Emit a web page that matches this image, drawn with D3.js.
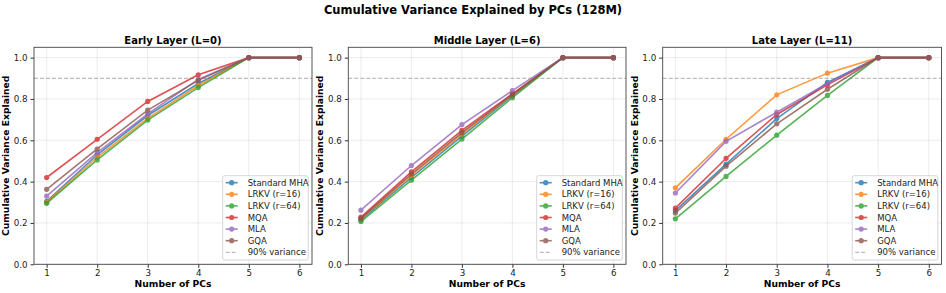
<!DOCTYPE html>
<html>
<head>
<meta charset="utf-8">
<script src="https://cdn.jsdelivr.net/npm/d3@7"></script>
<style>
  body { margin: 0; background: #fff; }
  svg { font-family: "DejaVu Sans", sans-serif; }
</style>
</head>
<body>
<div id="chart"></div>
<script>
const pcs = [1, 2, 3, 4, 5, 6];
const seriesNames = ['Standard MHA', 'LRKV (r=16)', 'LRKV (r=64)', 'MQA', 'MLA', 'GQA'];
const colors = ['#1f77b4', '#ff7f0e', '#2ca02c', '#d62728', '#9467bd', '#8c564b'];
const yTicks = [0.0, 0.2, 0.4, 0.6, 0.8, 1.0];
const panelTitles = ['Early Layer (L=0)', 'Middle Layer (L=6)', 'Late Layer (L=11)'];

// Early layer (L=0)
const early = [
  [0.305, 0.530, 0.720, 0.875, 1.0, 1.0],
  [0.300, 0.518, 0.706, 0.865, 1.0, 1.0],
  [0.295, 0.505, 0.698, 0.855, 1.0, 1.0],
  [0.420, 0.605, 0.788, 0.917, 1.0, 1.0],
  [0.330, 0.540, 0.728, 0.895, 1.0, 1.0],
  [0.363, 0.558, 0.746, 0.890, 1.0, 1.0]
];
// Middle layer (L=6)
const middle = [
  [0.215, 0.420, 0.620, 0.815, 1.0, 1.0],
  [0.220, 0.430, 0.630, 0.820, 1.0, 1.0],
  [0.207, 0.407, 0.606, 0.806, 1.0, 1.0],
  [0.228, 0.447, 0.648, 0.825, 1.0, 1.0],
  [0.262, 0.478, 0.676, 0.840, 1.0, 1.0],
  [0.222, 0.437, 0.637, 0.822, 1.0, 1.0]
];
// Late layer (L=11)
const late = [
  [0.260, 0.485, 0.705, 0.880, 1.0, 1.0],
  [0.370, 0.605, 0.820, 0.925, 1.0, 1.0],
  [0.220, 0.425, 0.625, 0.817, 1.0, 1.0],
  [0.272, 0.513, 0.725, 0.868, 1.0, 1.0],
  [0.345, 0.595, 0.736, 0.875, 1.0, 1.0],
  [0.248, 0.475, 0.680, 0.847, 1.0, 1.0]
];
const threshold = 0.9;

const W = 946, H = 293;
const svg = d3.select('#chart').append('svg')
  .attr('width', W).attr('height', H);

svg.append('text')
  .attr('x', W / 2).attr('y', 14)
  .attr('text-anchor', 'middle')
  .attr('font-size', 11.5).attr('font-weight', 'bold')
  .text('Cumulative Variance Explained by PCs (128M)');

const panels = [
  { left: 34, right: 312, data: early },
  { left: 348.3, right: 626, data: middle },
  { left: 662.7, right: 941.5, data: late }
];
const plotTop = 47.3, plotBottom = 264.3;

panels.forEach((p, pi) => {
  const x = d3.scaleLinear().domain([0.75, 6.25]).range([p.left, p.right]);
  const y = d3.scaleLinear().domain([0, 1.05]).range([plotBottom, plotTop]);
  const g = svg.append('g');

  // grid
  g.selectAll('.gx').data(pcs).enter().append('line')
    .attr('x1', d => x(d)).attr('x2', d => x(d))
    .attr('y1', plotTop).attr('y2', plotBottom)
    .attr('stroke', '#b0b0b0').attr('stroke-opacity', 0.3).attr('stroke-width', 0.8);
  g.selectAll('.gy').data(yTicks).enter().append('line')
    .attr('x1', p.left).attr('x2', p.right)
    .attr('y1', d => y(d)).attr('y2', d => y(d))
    .attr('stroke', '#b0b0b0').attr('stroke-opacity', 0.3).attr('stroke-width', 0.8);

  // axes
  const xa = g.append('g').attr('transform', `translate(0,${plotBottom})`)
    .call(d3.axisBottom(x).tickValues(pcs).tickSize(3.5).tickPadding(2).tickFormat(d3.format('d')));
  const ya = g.append('g').attr('transform', `translate(${p.left},0)`)
    .call(d3.axisLeft(y).tickValues(yTicks).tickSize(3.5).tickPadding(3).tickFormat(d3.format('.1f')));
  [xa, ya].forEach(a => {
    a.select('.domain').remove();
    a.selectAll('line').attr('stroke', '#333');
    a.selectAll('text').attr('font-size', 8.7).attr('fill', '#222').attr('font-family', 'DejaVu Sans');
  });

  // 90% line
  g.append('line')
    .attr('x1', p.left).attr('x2', p.right)
    .attr('y1', y(threshold)).attr('y2', y(threshold))
    .attr('stroke', '#999').attr('stroke-opacity', 0.8)
    .attr('stroke-width', 1).attr('stroke-dasharray', '4,2');

  const line = d3.line().x((d, i) => x(pcs[i])).y(d => y(d));
  p.data.forEach((vals, si) => {
    const s = g.append('g').attr('opacity', 0.8);
    s.append('path').attr('d', line(vals))
      .attr('fill', 'none').attr('stroke', colors[si]).attr('stroke-width', 1.6);
    s.selectAll('circle').data(vals).enter().append('circle')
      .attr('cx', (d, i) => x(pcs[i])).attr('cy', d => y(d)).attr('r', 2.6)
      .attr('fill', colors[si]);
  });

  // frame
  g.append('rect')
    .attr('x', p.left).attr('y', plotTop)
    .attr('width', p.right - p.left).attr('height', plotBottom - plotTop)
    .attr('fill', 'none').attr('stroke', '#444').attr('stroke-width', 0.9);

  // titles
  g.append('text')
    .attr('x', (p.left + p.right) / 2).attr('y', plotTop - 3.5)
    .attr('text-anchor', 'middle').attr('font-size', 10).attr('font-weight', 'bold')
    .text(panelTitles[pi]);
  g.append('text')
    .attr('x', (p.left + p.right) / 2).attr('y', 287)
    .attr('text-anchor', 'middle').attr('font-size', 9.2).attr('font-weight', 'bold')
    .text('Number of PCs');
  g.append('text')
    .attr('transform', `translate(${p.left - 25},${(plotTop + plotBottom) / 2}) rotate(-90)`)
    .attr('text-anchor', 'middle').attr('font-size', 9.2).attr('font-weight', 'bold')
    .text('Cumulative Variance Explained');

  // legend
  const lw = 85.6, lh = 84.3;
  const lx = p.right - 3.7 - lw, ly = plotBottom - 4.3 - lh;
  const leg = g.append('g');
  leg.append('rect').attr('x', lx).attr('y', ly).attr('width', lw).attr('height', lh)
    .attr('rx', 2).attr('fill', '#fff').attr('fill-opacity', 0.8)
    .attr('stroke', '#ccc').attr('stroke-width', 0.8);
  const items = seriesNames.map((n, i) => ({ name: n, color: colors[i], dash: false }))
    .concat([{ name: '90% variance', color: '#999', dash: true }]);
  items.forEach((it, i) => {
    const ry = ly + 7 + i * 11.6;
    const r = leg.append('g').attr('opacity', 0.8);
    r.append('line').attr('x1', lx + 3).attr('x2', lx + 15)
      .attr('y1', ry).attr('y2', ry)
      .attr('stroke', it.color).attr('stroke-width', it.dash ? 1 : 1.6)
      .attr('stroke-dasharray', it.dash ? '4,2' : null);
    if (!it.dash) {
      r.append('circle').attr('cx', lx + 9).attr('cy', ry).attr('r', 2.6).attr('fill', it.color);
    }
    leg.append('text').attr('x', lx + 25).attr('y', ry + 3)
      .attr('font-size', 8.5).attr('fill', '#222').text(it.name);
  });
});
</script>
</body>
</html>
